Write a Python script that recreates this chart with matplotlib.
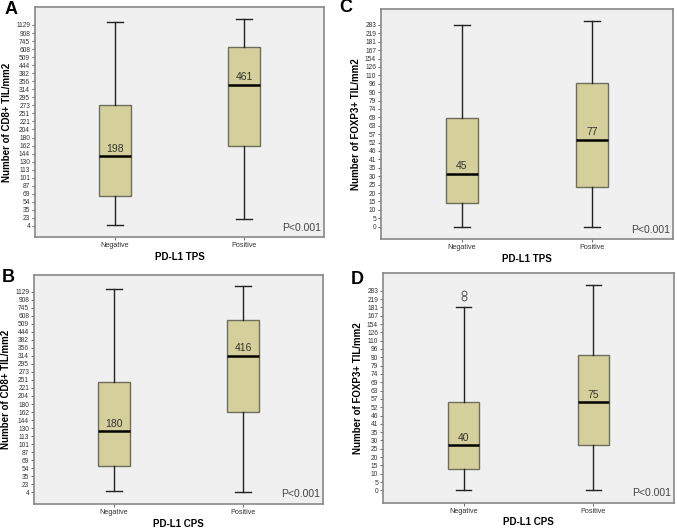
import numpy as np
import matplotlib
matplotlib.use("Agg")
import matplotlib.pyplot as plt

plt.rcParams["font.family"] = ["Liberation Sans", "DejaVu Sans"]

# y axis of the source is rank-like: equally spaced ticks with these labels
cd8_ticks = [4, 23, 35, 54, 69, 87, 101, 113, 130, 144, 162, 180, 204, 221,
             251, 273, 295, 314, 356, 382, 444, 509, 608, 745, 908, 1129]
foxp3_ticks = [0, 5, 10, 15, 20, 25, 30, 35, 41, 46, 52, 57, 63, 69, 74, 79,
               90, 96, 110, 126, 154, 167, 181, 219, 283]

groups = ["Negative", "Positive"]

# box stats in tick-position units: whislo, q1, med, q3, whishi
a_neg = [0.08, 3.78, 8.67, 15.0, 25.35]
a_pos = [0.83, 9.96, 17.55, 22.2, 25.7]
b_neg = [0.17, 3.32, 7.64, 13.79, 25.37]
b_pos = [0.08, 9.97, 17.0, 21.5, 25.7]
c_neg = [0.0, 2.78, 6.31, 12.98, 24.04]
c_pos = [0.0, 4.76, 10.36, 17.06, 24.44]
d_neg = [0.0, 2.6, 5.41, 10.58, 22.04]
d_pos = [0.0, 5.41, 10.62, 16.23, 24.68]
d_neg_fliers = [23.12, 23.68]

a_labels = ["198", "461"]
b_labels = ["180", "416"]
c_labels = ["45", "77"]
d_labels = ["40", "75"]

box_fill = "#d5d09b"
bg = "#f0f0f0"

fig = plt.figure(figsize=(6.77, 5.28), dpi=100)
W, H = 677.0, 528.0


def make_ax(x0, x1, ytop, ybot):
    return fig.add_axes([x0 / W, 1 - ybot / H, (x1 - x0) / W, (ybot - ytop) / H])


def panel(ax, stats_neg, stats_pos, fliers, ticks, ylim, ylabel, xlabel, labels):
    stats = []
    for s, fl in zip([stats_neg, stats_pos], fliers):
        stats.append(dict(whislo=s[0], q1=s[1], med=s[2], q3=s[3], whishi=s[4], fliers=fl))
    ax.bxp(stats, positions=[1, 2], widths=0.245, patch_artist=True,
           boxprops=dict(facecolor=box_fill, edgecolor="#6e6e5e", linewidth=1),
           medianprops=dict(color="black", linewidth=1.8),
           whiskerprops=dict(color="#222222", linewidth=1),
           capprops=dict(color="#222222", linewidth=1),
           capwidths=0.12,
           flierprops=dict(marker="o", markersize=3.5, markerfacecolor="none",
                           markeredgecolor="#555555", markeredgewidth=0.7))
    for pos, s, lab in zip([1, 2], [stats_neg, stats_pos], labels):
        ax.text(pos, s[2] + 0.3, lab, ha="center", va="bottom", fontsize=7.5, color="#333333")
    ax.set_facecolor(bg)
    ax.set_xlim(0.38, 2.62)
    ax.set_ylim(*ylim)
    ax.set_yticks(np.arange(len(ticks)))
    ax.set_yticklabels([str(t) for t in ticks], fontsize=4.8, color="#333333")
    ax.set_xticks([1, 2])
    ax.set_xticklabels(groups, fontsize=5.2, color="#333333")
    ax.tick_params(axis="both", length=2.5, width=0.6, color="#555555", pad=1)
    for sp in ax.spines.values():
        sp.set_color("#888888")
        sp.set_linewidth(1.2)
    ax.set_ylabel(ylabel, fontsize=7, fontweight="bold", labelpad=3)
    ax.set_xlabel(xlabel, fontsize=7, fontweight="bold", labelpad=2)
    ax.text(0.99, 0.02, "P<0.001", transform=ax.transAxes, ha="right", va="bottom",
            fontsize=7.5, color="#444444")


axA = make_ax(35, 324, 7.3, 237.3)
axB = make_ax(34, 323, 274.7, 504)
axC = make_ax(381, 673, 9, 239.3)
axD = make_ax(383, 674, 273.3, 502.7)

panel(axA, a_neg, a_pos, [[], []], cd8_ticks, (-1.41, 27.2),
      "Number of CD8+ TIL/mm2", "PD-L1 TPS", a_labels)
panel(axB, b_neg, b_pos, [[], []], cd8_ticks, (-1.45, 27.1),
      "Number of CD8+ TIL/mm2", "PD-L1 CPS", b_labels)
panel(axC, c_neg, c_pos, [[], []], foxp3_ticks, (-1.51, 25.9),
      "Number of FOXP3+ TIL/mm2", "PD-L1 TPS", c_labels)
panel(axD, d_neg, d_pos, [d_neg_fliers, []], foxp3_ticks, (-1.48, 26.1),
      "Number of FOXP3+ TIL/mm2", "PD-L1 CPS", d_labels)

# panel letters
for letter, (px, py) in zip("ABCD", [(11, 9.5), (8, 278), (346, 8), (357, 279)]):
    fig.text(px / W, 1 - py / H, letter, ha="center", va="center",
             fontsize=13, fontweight="bold")

fig.savefig("out.png", dpi=100)
